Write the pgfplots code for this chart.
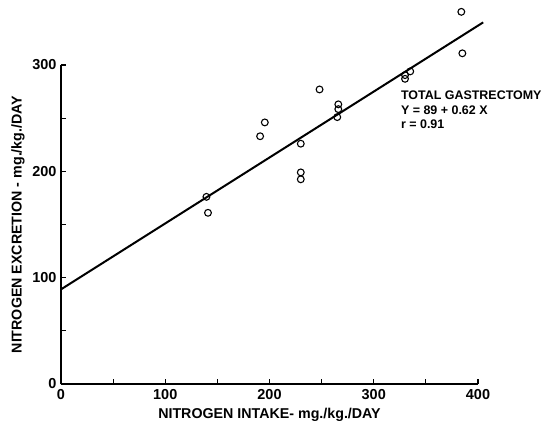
\documentclass[border=0pt]{standalone}
\usepackage{fontspec}
\setmainfont{Liberation Sans}
\usepackage{pgfplots}
\pgfplotsset{compat=1.18}
\begin{document}
\begin{tikzpicture}
\path[use as bounding box] (-61bp,-40bp) rectangle (485bp,384bp);
\begin{axis}[
  at={(0,0)}, anchor=south west,
  scale only axis, width=417bp, height=319bp,
  xmin=0, xmax=400, ymin=0, ymax=300,
  axis lines=left,
  axis line style={-, line width=1.4bp},
  clip=false,
  xtick={0,100,200,300,400}, ytick={0,100,200,300},
  minor xtick={50,150,250,350}, minor ytick={50,150,250},
  tick align=inside,
  major tick length=5bp, minor tick length=5bp,
  every tick/.style={line width=1.2bp, black},
  /pgf/number format/assume math mode=true,
  tick label style={font=\fontsize{14.5}{14.5}\selectfont\bfseries},
  xticklabel style={yshift=-2bp},
  yticklabel style={xshift=-1bp},
  xlabel={NITROGEN INTAKE- mg./kg./DAY},
  ylabel={NITROGEN EXCRETION - mg./kg./DAY},
  label style={font=\fontsize{14.3}{14.3}\selectfont\bfseries},
  xlabel style={at={(axis description cs:0.5,-0.1097)}, anchor=base},
  ylabel style={at={(axis description cs:-0.1031,0.5)}, anchor=center},
]
\addplot[black, line width=2bp] coordinates {(0,89) (405,340.1)};
\addplot[only marks, mark=o, mark size=3.4bp, mark options={line width=1.1bp, black}] coordinates {
(139.5,176) (141,161) (191,233) (195.5,246) (230,226) (230,199) (230,192.5)
(248,277) (266,263) (266,258.5) (265,251) (330,287) (330,290.5) (335,294)
(384,350) (385,311)
};
\node[anchor=north west, align=left, inner sep=0pt, font=\fontsize{12.5}{14.5}\selectfont\bfseries] at (axis cs:326,275.5) {TOTAL GASTRECTOMY\\Y = 89 + 0.62 X\\r = 0.91};
\end{axis}
\end{tikzpicture}
\end{document}
